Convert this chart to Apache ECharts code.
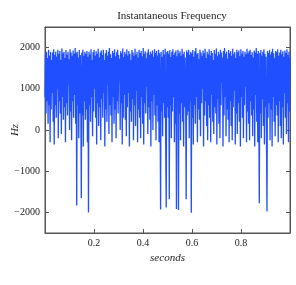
<!DOCTYPE html>
<html><head><meta charset="utf-8">
<script src="https://cdn.jsdelivr.net/npm/echarts@6/dist/echarts.min.js"></script>
<style>html,body{margin:0;padding:0;background:#fff}#c{width:296px;height:285px}</style>
</head><body><div id="c"></div>
<script>
const titleText = 'Instantaneous Frequency';
const xName = 'seconds';
const yName = 'Hz';
const xTicks = [0.2, 0.4, 0.6, 0.8];
const yTicks = [-2000, -1000, 0, 1000, 2000];
const tStart = 0, tEnd = 1;
const freqHz = [
800,1850,400,1900,700,1750,150,1950,600,1800,-300,1900,500,1700,900,1880,200,1960,-350,1820,
600,1900,300,1780,1000,1950,-200,1850,700,1920,400,1700,-100,1980,800,1860,250,1900,550,1750,
-300,1940,650,1830,350,1900,1100,1720,0,1960,450,1880,-250,1800,700,1930,300,1850,850,1990,
150,1870,-1830,1900,600,1760,-200,1940,400,1820,900,-1650,1880,350,1950,-400,1800,700,1900,250,
1850,500,1920,-300,1780,-2000,1900,600,1830,200,1960,800,1700,-150,1890,450,1940,1000,1800,300,
1910,-350,1850,650,1970,100,1760,550,1880,-250,1930,750,1820,300,1950,900,1700,-400,1860,500,
1940,200,1800,1100,1900,-100,1990,600,1840,350,1750,-300,1920,800,1870,150,1960,500,1790,-200,
1890,700,1950,400,1820,1200,1730,0,1910,650,1860,-350,1980,300,1770,850,1900,250,1840,-150,
1960,550,1810,900,1920,-400,1850,450,1700,200,1940,750,1880,-250,1800,600,1970,100,1830,950,
1900,-300,1760,500,1950,300,1870,-200,1920,800,1790,150,1990,-350,1850,650,1910,400,1740,1050,
1880,-100,1960,550,1820,250,1900,-400,1850,700,1930,0,1780,850,1960,350,1870,-250,1920,600,
1810,200,1950,-300,1860,750,-1930,1900,450,1780,-150,1940,650,1830,300,1970,-350,-1880,1890,550,
1920,300,1850,-1680,1940,600,1770,-200,1900,450,1960,800,1820,-300,1880,150,1930,-1920,1790,700,
1950,-1940,1860,400,1910,-250,1800,650,1970,200,1840,-400,1900,550,1760,900,-1680,1930,350,1880,
450,1950,-200,1820,700,1900,-2010,1860,300,1940,-350,1780,600,1910,150,1990,800,1840,-300,1870,
500,1720,250,1950,-150,1880,650,1800,1000,1930,-400,1860,350,1970,700,1750,100,1900,-250,1840,
600,1960,300,1810,-300,1920,850,1870,200,1700,-100,1940,550,1850,400,1980,-350,1790,750,1900,
150,1830,-200,1950,600,1880,1150,1760,-400,1920,350,1990,800,1850,-150,1900,500,1730,250,1940,
-300,1860,700,1910,100,1800,-250,1970,550,1840,950,1890,-350,1750,400,1950,-100,1880,650,1930,
200,1790,-400,1960,800,1850,300,1920,-200,1780,600,1900,1050,1840,-300,1970,450,1860,150,1910,
-250,1950,700,1820,350,1890,-150,1760,500,1930,-400,1880,850,1990,200,1850,-300,1920,600,-1780,
1870,400,1940,-200,1810,750,1900,100,1960,-350,1850,550,1780,-100,-1980,1920,300,1870,650,1950,
-250,1830,500,1900,-400,1970,800,1860,200,1740,-150,1920,600,1890,350,1960,-300,1800,700,1880,
100,1950,-200,1840,550,1910,-350,1780,900,1930,300,1870,-100,1960,650,1820,-300,1900,450,1750
];
const seriesData = freqHz.map((v, i) => [tStart + (tEnd - tStart) * i / (freqHz.length - 1), v]);
const serif = '"Liberation Serif","DejaVu Serif",serif';
const axisCol = '#555';
const chart = echarts.init(document.getElementById('c'), null, {renderer: 'canvas'});
chart.setOption({
  animation: false,
  title: {text: titleText, left: 167, top: 6, textAlign: 'center',
    textStyle: {fontFamily: serif, fontSize: 11, fontWeight: 'normal', color: '#222'}},
  grid: {left: 45, right: 6, top: 27, bottom: 52, outerBoundsMode: 'none', containLabel: false,
    show: true, borderColor: axisCol, borderWidth: 1, backgroundColor: 'transparent'},
  xAxis: [{
    type: 'value', min: tStart, max: tEnd, position: 'bottom',
    name: xName, nameLocation: 'middle', nameGap: 20, nameMoveOverlap: false,
    nameTextStyle: {fontFamily: serif, fontSize: 11, fontStyle: 'italic', color: '#222'},
    axisLine: {show: true, onZero: false, lineStyle: {color: axisCol}},
    axisTick: {show: true, inside: true, length: 4, customValues: xTicks, lineStyle: {color: axisCol}},
    axisLabel: {customValues: xTicks, fontFamily: serif, fontSize: 10, color: '#222', margin: 5},
    splitLine: {show: false}
  }, {
    type: 'value', min: tStart, max: tEnd, position: 'top',
    axisLine: {show: true, onZero: false, lineStyle: {color: axisCol}},
    axisTick: {show: true, inside: true, length: 4, customValues: xTicks, lineStyle: {color: axisCol}},
    axisLabel: {show: false}, splitLine: {show: false}
  }],
  yAxis: [{
    type: 'value', min: -2500, max: 2500, position: 'left',
    name: yName, nameLocation: 'middle', nameGap: 24, nameRotate: 90, nameMoveOverlap: false,
    nameTextStyle: {fontFamily: serif, fontSize: 11, fontStyle: 'italic', color: '#222'},
    axisLine: {show: true, onZero: false, lineStyle: {color: axisCol}},
    axisTick: {show: true, inside: true, length: 4, customValues: yTicks, lineStyle: {color: axisCol}},
    axisLabel: {customValues: yTicks, fontFamily: serif, fontSize: 10, color: '#222', margin: 5,
      formatter: v => (v < 0 ? '\u2212' + Math.abs(v) : String(v))},
    splitLine: {show: false}
  }, {
    type: 'value', min: -2500, max: 2500, position: 'right',
    axisLine: {show: true, onZero: false, lineStyle: {color: axisCol}},
    axisTick: {show: true, inside: true, length: 4, customValues: yTicks, lineStyle: {color: axisCol}},
    axisLabel: {show: false}, splitLine: {show: false}
  }],
  series: [{
    type: 'line', data: seriesData, xAxisIndex: 0, yAxisIndex: 0,
    showSymbol: false, symbol: 'none', sampling: false, clip: true,
    lineStyle: {color: '#1f4fff', width: 1.3}
  }]
});
</script></body></html>
